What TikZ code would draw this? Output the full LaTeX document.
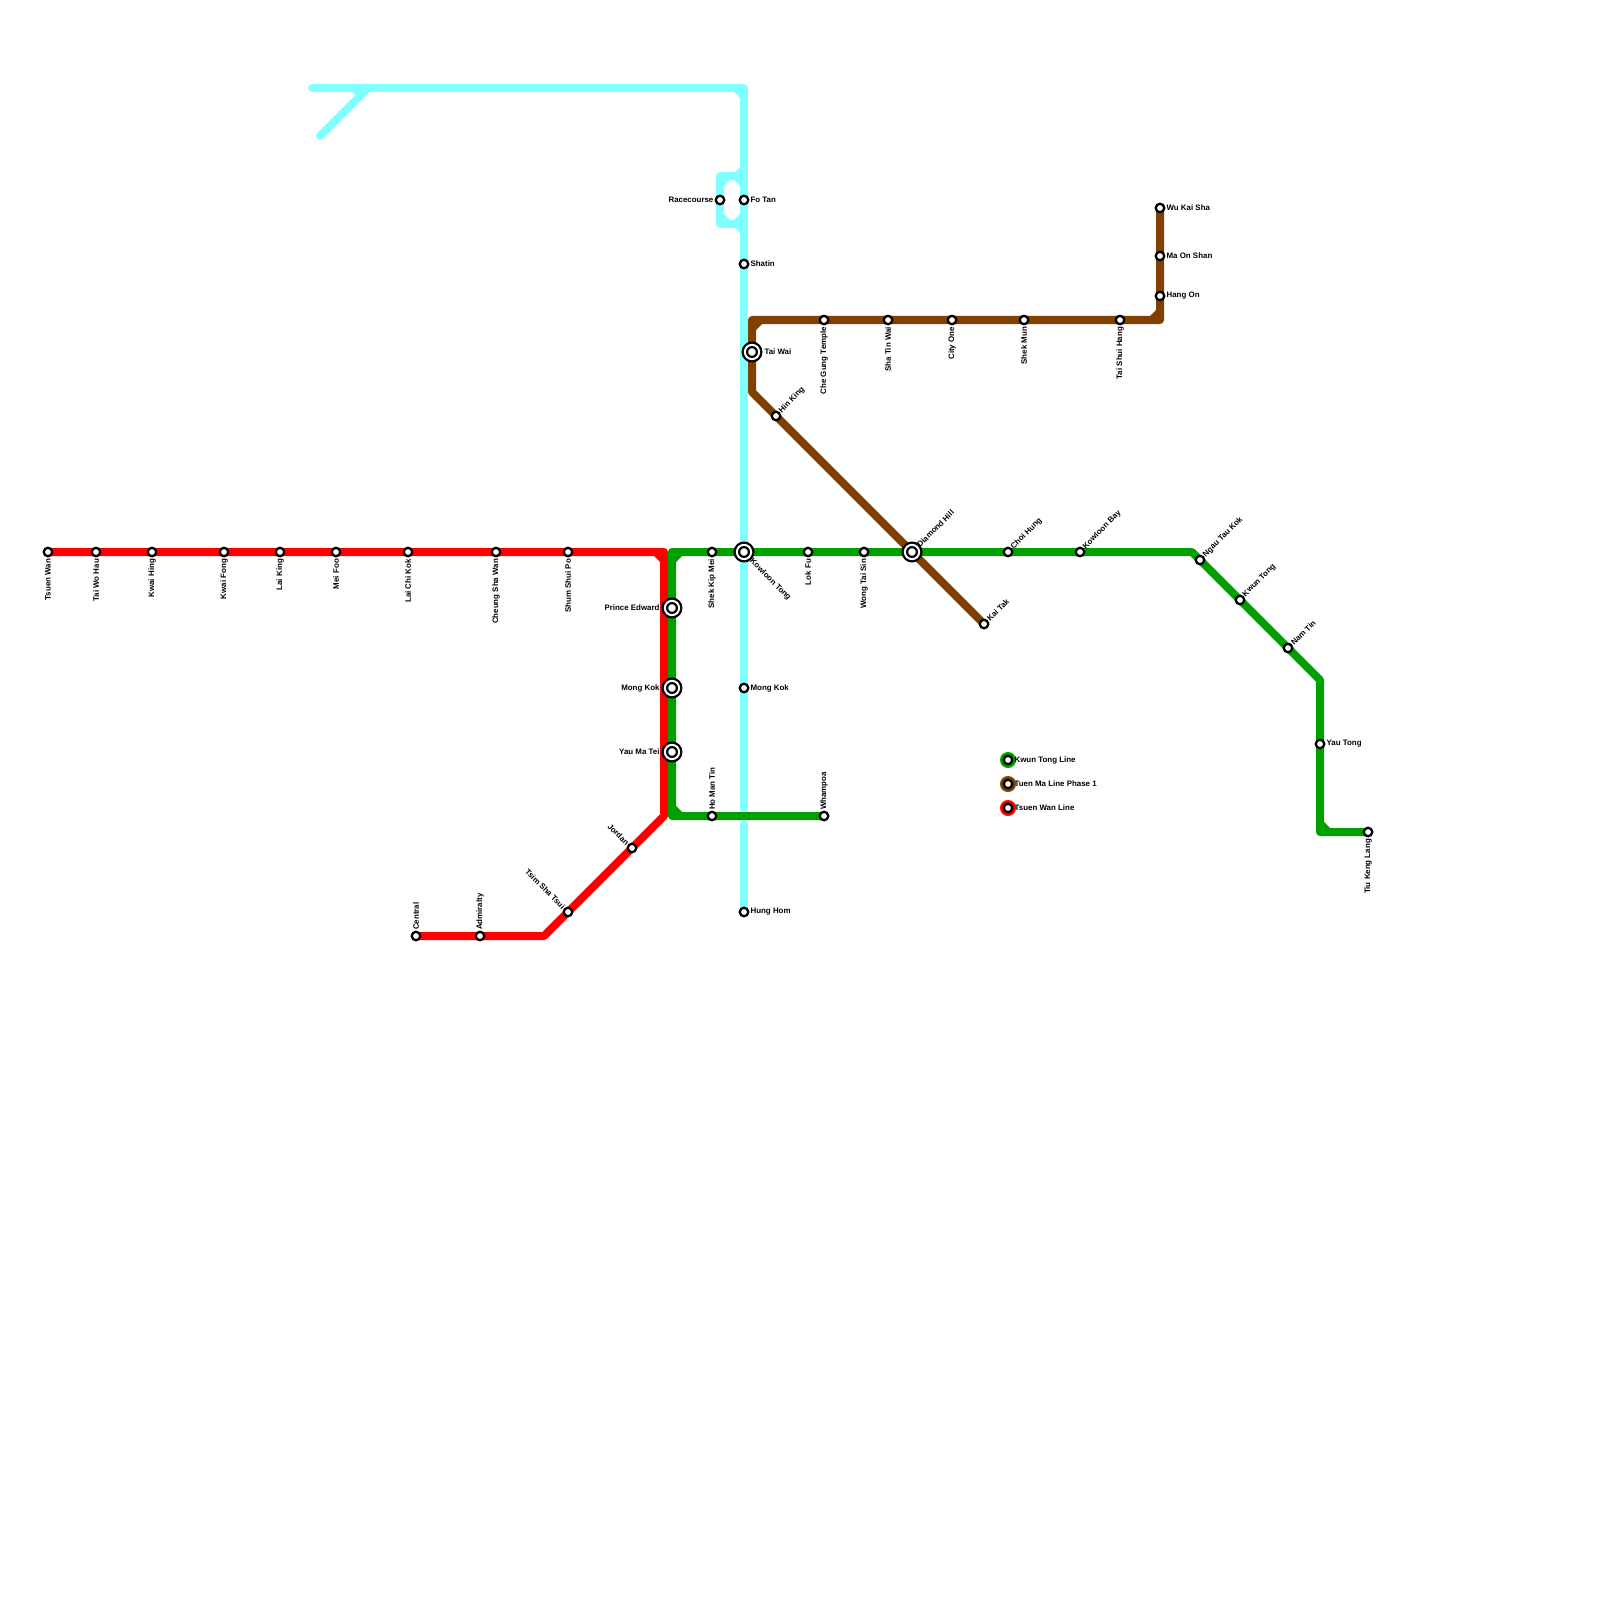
\documentclass[tikz,border=0pt]{standalone}
\usepackage{fontspec}
\setmainfont{Liberation Sans}
\usetikzlibrary{positioning,backgrounds}
\definecolor{kwuntong}{RGB}{0,160,0}
\definecolor{tuenma}{RGB}{128,64,0}
\definecolor{tsuenwan}{RGB}{255,0,0}
\definecolor{eastrail}{RGB}{128,255,255}

\begin{document}
\begin{tikzpicture}[
    x=0.01cm, y=-0.01cm,
    station/.style={circle, draw=black, fill=white, line width=0.023cm, minimum size=0.085cm, inner sep=0pt},
    interchange/.style={circle, draw=black, fill=white, line width=0.023cm, double=white, double distance=0.02cm, minimum size=0.143cm, inner sep=0pt},
    legenddot/.style={circle, minimum size=0.16cm, inner sep=0pt},
    lbl/.style={font=\fontsize{2.25pt}{2.8pt}\selectfont\bfseries, inner sep=0pt},
    lbldown/.style={lbl, rotate=90, anchor=east},
    lblup/.style={lbl, rotate=90, anchor=west},
    lblne/.style={lbl, rotate=45, anchor=west},
    lblse/.style={lbl, rotate=-45, anchor=west},
    lblnw/.style={lbl, rotate=-45, anchor=east},
    metro/.style={line width=0.08cm, line cap=round, line join=round}
]
    \useasboundingbox (0,0) rectangle (1600,1600);

    % Tsuen Wan line
    \node[station] (tsuenwan) at (48,552) {};
    \node[station] (taiwohau) at (96,552) {};
    \node[station] (kwaihing) at (152,552) {};
    \node[station] (kwaifong) at (224,552) {};
    \node[station] (laiking) at (280,552) {};
    \node[station] (meifoo) at (336,552) {};
    \node[station] (laichikok) at (408,552) {};
    \node[station] (cheungshawan) at (496,552) {};
    \node[station] (shumshuipo) at (568,552) {};
    \node[station] (jordan) at (632,848) {};
    \node[station] (tsimshatsui) at (568,912) {};
    \node[station] (admiralty) at (480,936) {};
    \node[station] (central) at (416,936) {};
    \coordinate (redtop) at (664,552);
    \coordinate (redbend) at (664,816);
    \coordinate (redlow) at (544,936);

    % Kwun Tong line
    \node[interchange] (princeedward) at (672,608) {};
    \node[interchange] (mongkok) at (672,688) {};
    \node[interchange] (yaumatei) at (672,752) {};
    \node[station] (homantin) at (712,816) {};
    \node[station] (whampoa) at (824,816) {};
    \node[station] (shekkipmei) at (712,552) {};
    \node[interchange] (kowloontong) at (744,552) {};
    \node[station] (lokfu) at (808,552) {};
    \node[station] (wongtaisin) at (864,552) {};
    \node[interchange] (diamondhill) at (912,552) {};
    \node[station] (choihung) at (1008,552) {};
    \node[station] (kowloonbay) at (1080,552) {};
    \node[station] (ngautaukok) at (1200,560) {};
    \node[station] (kwuntong) at (1240,600) {};
    \node[station] (namtin) at (1288,648) {};
    \node[station] (yautong) at (1320,744) {};
    \node[station] (tiukenglang) at (1368,832) {};
    \coordinate (greenlow) at (672,816);
    \coordinate (greentop) at (672,552);
    \coordinate (greeneast) at (1192,552);
    \coordinate (greenbend) at (1320,680);
    \coordinate (greenfoot) at (1320,832);

    % Tuen Ma line
    \node[station] (wukaisha) at (1160,208) {};
    \node[station] (maonshan) at (1160,256) {};
    \node[station] (hangon) at (1160,296) {};
    \node[station] (taishuihang) at (1120,320) {};
    \node[station] (shekmun) at (1024,320) {};
    \node[station] (cityone) at (952,320) {};
    \node[station] (shatinwai) at (888,320) {};
    \node[station] (chegung) at (824,320) {};
    \node[interchange] (taiwai) at (752,352) {};
    \node[station] (hinking) at (776,416) {};
    \node[station] (kaitak) at (984,624) {};
    \coordinate (browneast) at (1160,320);
    \coordinate (brownwest) at (752,320);
    \coordinate (brownbend) at (752,392);

    % East Rail line
    \node[station] (racecourse) at (720,200) {};
    \node[station] (fotan) at (744,200) {};
    \node[station] (shatin) at (744,264) {};
    \node[station] (mongkokeast) at (744,688) {};
    \node[station] (hunghom) at (744,912) {};
    \coordinate (cyanstart) at (312,88);
    \coordinate (cyanfork) at (368,88);
    \coordinate (cyanspur) at (320,136);
    \coordinate (cyancorner) at (744,88);
    \coordinate (cyanabove) at (744,808);
    \coordinate (cyanbelow) at (744,824);
    \coordinate (looptopright) at (744,176);
    \coordinate (looptopleft) at (720,176);
    \coordinate (loopbotleft) at (720,224);
    \coordinate (loopbotright) at (744,224);

    % connectors under the stations
    \begin{scope}[on background layer]
        \draw[metro, eastrail] (cyanstart) -- (cyancorner) -- (cyanabove);
        \draw[metro, eastrail] (cyanspur) -- (cyanfork);
        \draw[metro, eastrail] (looptopright) -- (looptopleft) -- (loopbotleft) -- (loopbotright);
        \draw[metro, eastrail] (cyanbelow) -- (hunghom.center);
        \fill[eastrail] (352,92) -- (359,92) -- (355.5,95.5) -- cycle;
        \fill[eastrail] (740,92) -- (734,92) -- (740,98) -- cycle;
        \fill[eastrail] (735,172) -- (740,172) -- (740,167) -- cycle;
        \fill[eastrail] (735,228) -- (740,228) -- (740,233) -- cycle;
        \fill[eastrail] (724,180) -- (730,180) -- (724,186) -- cycle;
        \fill[eastrail] (740,180) -- (734,180) -- (740,186) -- cycle;
        \fill[eastrail] (724,220) -- (730,220) -- (724,214) -- cycle;
        \fill[eastrail] (740,220) -- (734,220) -- (740,214) -- cycle;

        \draw[metro, tuenma] (wukaisha.center) -- (browneast) -- (brownwest) -- (brownbend) -- (kaitak.center);
        \fill[tuenma] (1156,316) -- (1150,316) -- (1156,310) -- cycle;
        \fill[tuenma] (756,324) -- (762,324) -- (756,330) -- cycle;

        \draw[metro, tsuenwan] (tsuenwan.center) -- (redtop) -- (redbend) -- (redlow) -- (central.center);
        \fill[tsuenwan] (660,556) -- (654,556) -- (660,562) -- cycle;

        \draw[metro, kwuntong] (whampoa.center) -- (greenlow) -- (greentop) -- (greeneast) -- (greenbend) -- (greenfoot) -- (tiukenglang.center);
        \fill[kwuntong] (676,556) -- (682,556) -- (676,562) -- cycle;
        \fill[kwuntong] (676,812) -- (682,812) -- (676,806) -- cycle;
        \fill[kwuntong] (1324,828) -- (1330,828) -- (1324,822) -- cycle;
    \end{scope}

    % labels
    \node[below=0.01cm of tsuenwan, lbldown] {Tsuen Wan};
    \node[below=0.01cm of taiwohau, lbldown] {Tai Wo Hau};
    \node[below=0.01cm of kwaihing, lbldown] {Kwai Hing};
    \node[below=0.01cm of kwaifong, lbldown] {Kwai Fong};
    \node[below=0.01cm of laiking, lbldown] {Lai King};
    \node[below=0.01cm of meifoo, lbldown] {Mei Foo};
    \node[below=0.01cm of laichikok, lbldown] {Lai Chi Kok};
    \node[below=0.01cm of cheungshawan, lbldown] {Cheung Sha Wan};
    \node[below=0.01cm of shumshuipo, lbldown] {Shum Shui Po};
    \node[lblnw] at (jordan.north west) {Jordan};
    \node[lblnw] at (tsimshatsui.north west) {Tsim Sha Tsui};
    \node[above=0cm of admiralty, lblup] {Admiralty};
    \node[above=0cm of central, lblup] {Central};

    \node[lbl, left=0.035cm of princeedward] {Prince Edward};
    \node[lbl, left=0.035cm of mongkok] {Mong Kok};
    \node[lbl, left=0.035cm of yaumatei] {Yau Ma Tei};
    \node[above=0cm of homantin, lblup] {Ho Man Tin};
    \node[above=0cm of whampoa, lblup] {Whampoa};
    \node[below=0.01cm of shekkipmei, lbldown] {Shek Kip Mei};
    \node[lblse, xshift=0.02cm, yshift=-0.01cm] at (kowloontong.south east) {Kowloon Tong};
    \node[below=0.01cm of lokfu, lbldown] {Lok Fu};
    \node[below=0.01cm of wongtaisin, lbldown] {Wong Tai Sin};
    \node[lblne] at (diamondhill.north east) {Diamond Hill};
    \node[lblne] at (choihung.north east) {Choi Hung};
    \node[lblne] at (kowloonbay.north east) {Kowloon Bay};
    \node[lblne] at (ngautaukok.north east) {Ngau Tau Kok};
    \node[lblne] at (kwuntong.north east) {Kwun Tong};
    \node[lblne] at (namtin.north east) {Nam Tin};
    \node[lbl, right=0.005cm of yautong] {Yau Tong};
    \node[below=0.01cm of tiukenglang, lbldown] {Tiu Keng Lang};

    \node[lbl, right=0.005cm of wukaisha] {Wu Kai Sha};
    \node[lbl, right=0.005cm of maonshan] {Ma On Shan};
    \node[lbl, right=0.005cm of hangon] {Hang On};
    \node[below=0.01cm of taishuihang, lbldown] {Tai Shui Hang};
    \node[below=0.01cm of shekmun, lbldown] {Shek Mun};
    \node[below=0.01cm of cityone, lbldown] {City One};
    \node[below=0.01cm of shatinwai, lbldown] {Sha Tin Wai};
    \node[below=0.01cm of chegung, lbldown] {Che Gung Temple};
    \node[lbl, right=0.035cm of taiwai] {Tai Wai};
    \node[lblne] at (hinking.north east) {Hin King};
    \node[lblne] at (kaitak.north east) {Kai Tak};

    \node[lbl, left=0.005cm of racecourse] {Racecourse};
    \node[lbl, right=0.005cm of fotan] {Fo Tan};
    \node[lbl, right=0.005cm of shatin] {Shatin};
    \node[lbl, right=0.005cm of mongkokeast] {Mong Kok};
    \node[lbl, right=0.005cm of hunghom] {Hung Hom};

    % legend
    \node[legenddot, fill=kwuntong] (legendkwun) at (1008,760) {};
    \node[legenddot, fill=tuenma] (legendtuen) at (1008,784) {};
    \node[legenddot, fill=tsuenwan] (legendtsuen) at (1008,808) {};
    \node[station] (legendkwuns) at (legendkwun) {};
    \node[station] (legendtuens) at (legendtuen) {};
    \node[station] (legendtsuens) at (legendtsuen) {};
    \node[lbl, right=0.005cm of legendkwuns] {Kwun Tong Line};
    \node[lbl, right=0.005cm of legendtuens] {Tuen Ma Line Phase 1};
    \node[lbl, right=0.005cm of legendtsuens] {Tsuen Wan Line};
\end{tikzpicture}
\end{document}
